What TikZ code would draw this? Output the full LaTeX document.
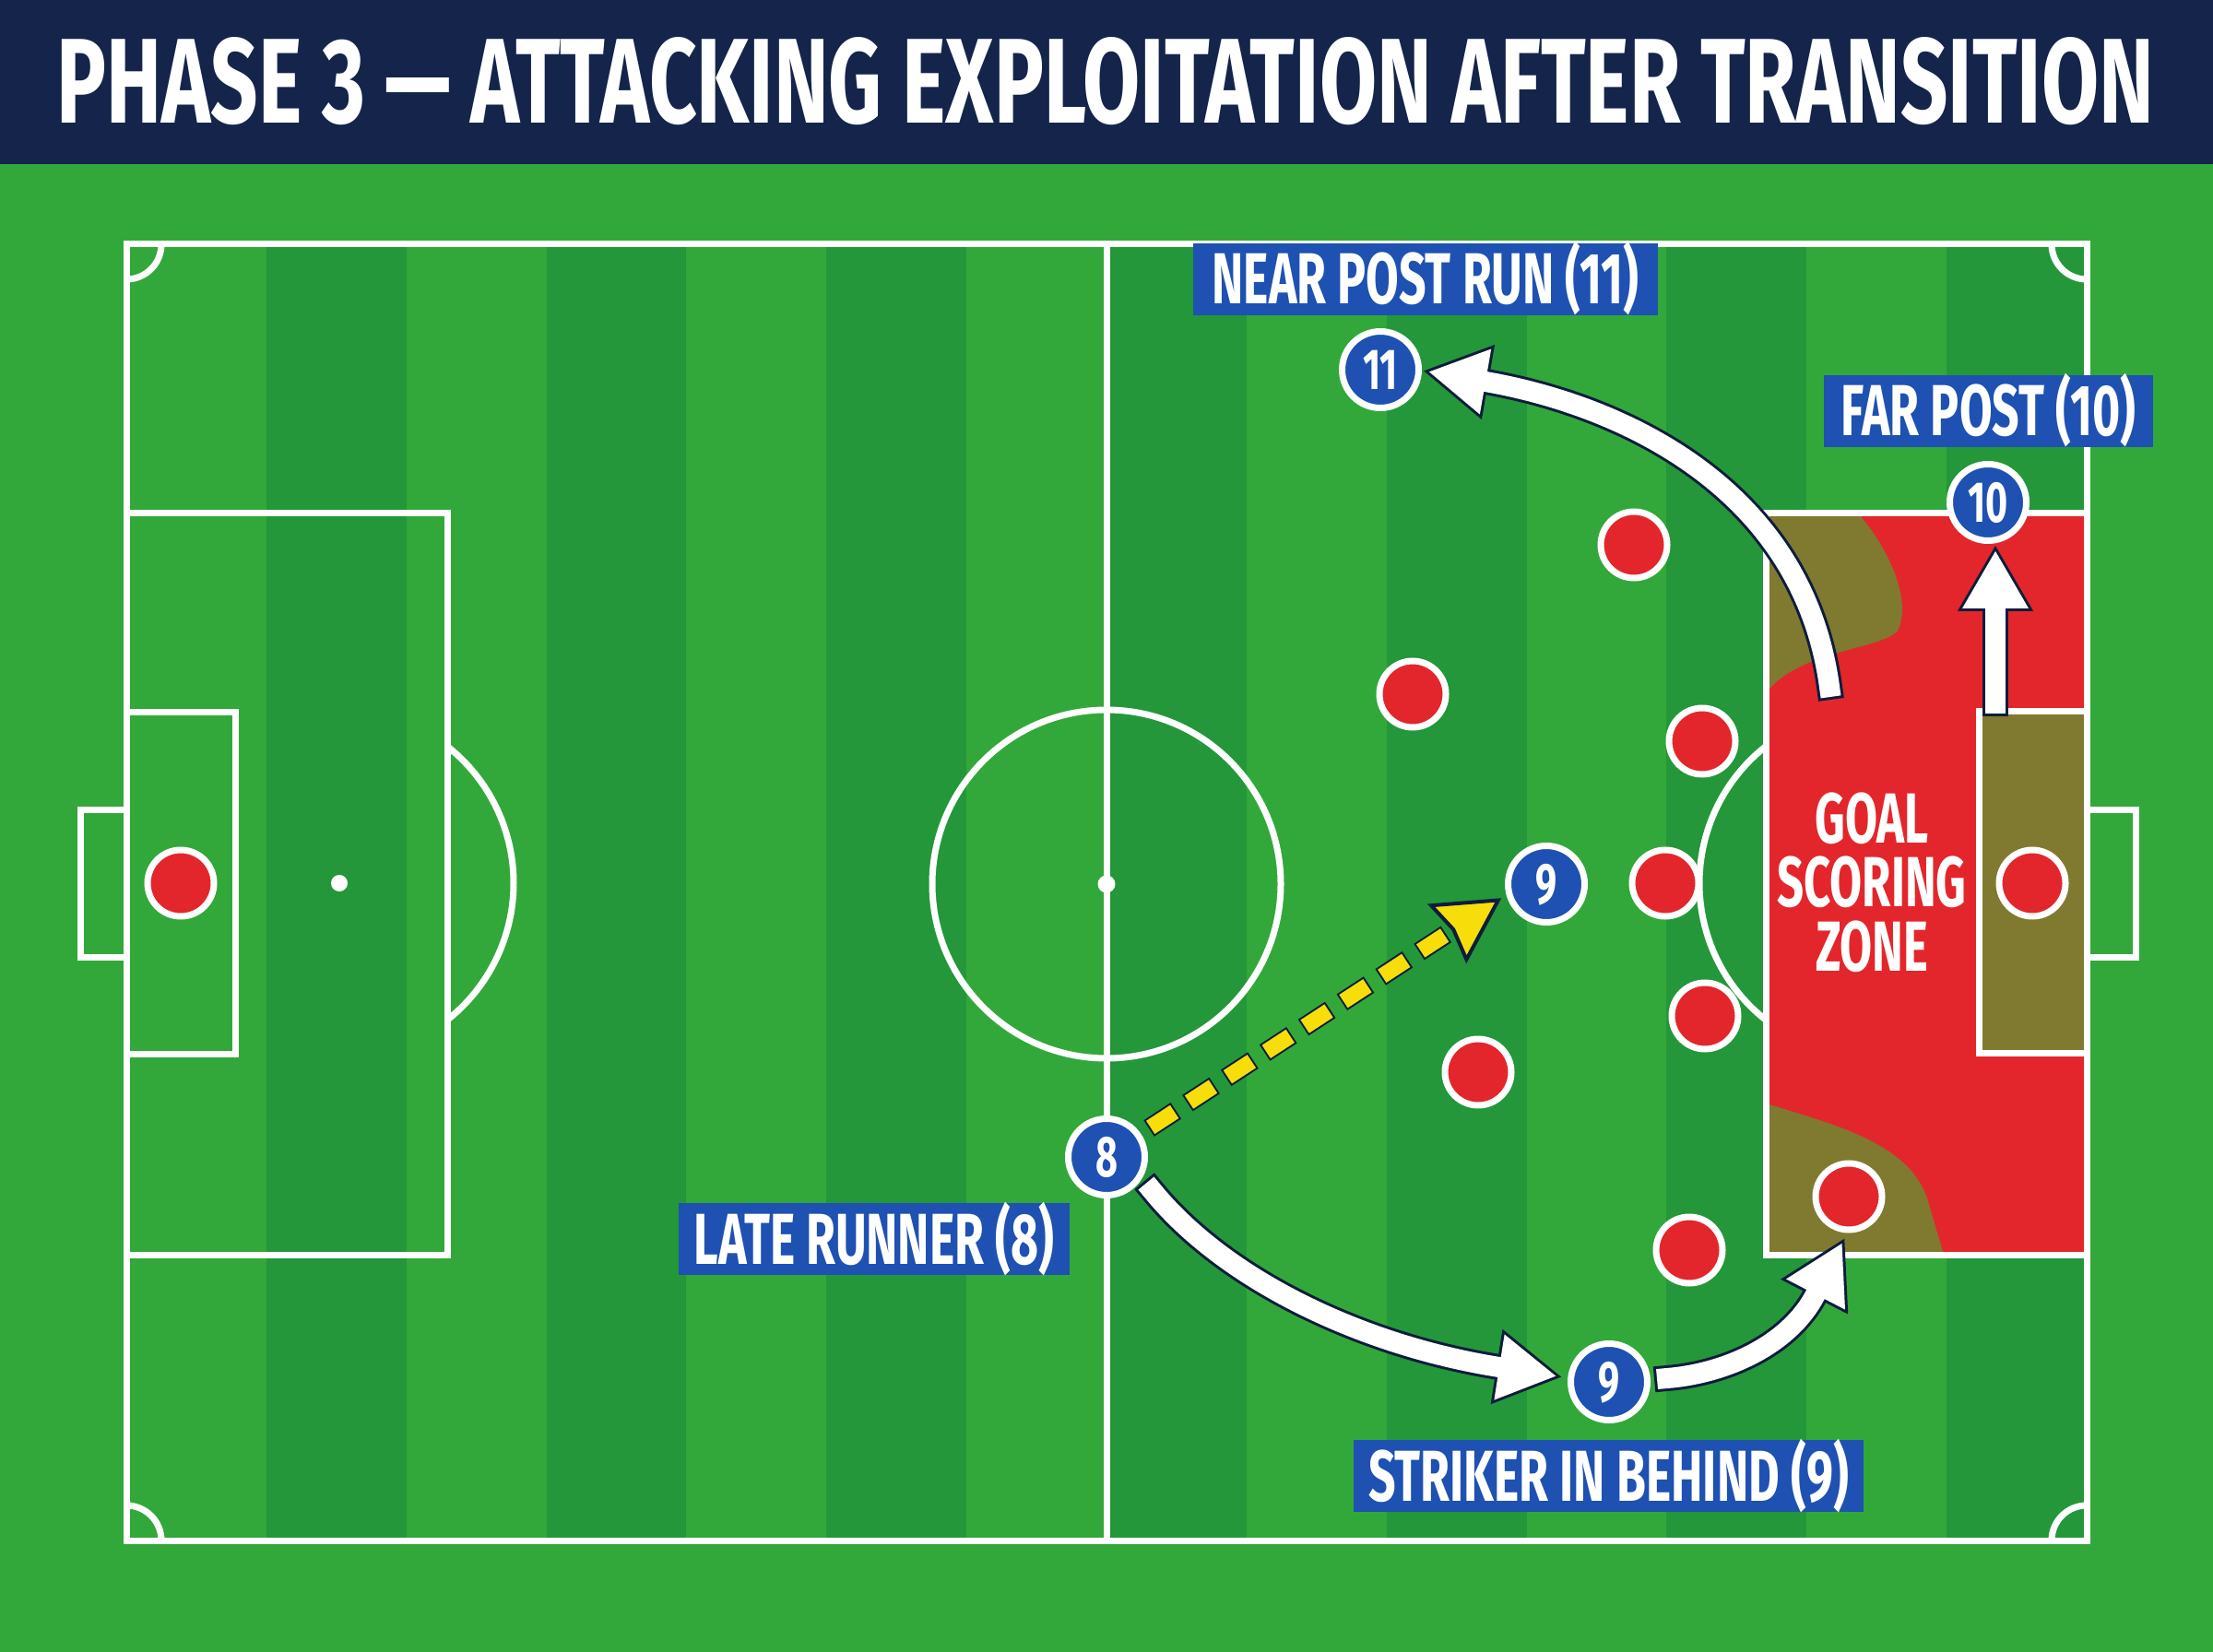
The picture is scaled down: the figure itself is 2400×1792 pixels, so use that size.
\documentclass[tikz,border=0pt]{standalone}
\usepackage{fontspec}
\usepackage{graphicx}
\usetikzlibrary{decorations.markings}
\newfontfamily\cf{Fira Sans}[FakeStretch=0.66]
\definecolor{navybar}{HTML}{14244A}
\definecolor{grassl}{HTML}{32A83A}
\definecolor{grassd}{HTML}{239739}
\definecolor{redp}{HTML}{E3262B}
\definecolor{bluep}{HTML}{1E51B2}
\definecolor{olivez}{HTML}{7F7A30}
\definecolor{navyl}{HTML}{0E1C3C}
\definecolor{yel}{HTML}{F7DD0A}
\tikzset{
  pline/.style={draw=white, line width=0.7mm},
  oppo/.style={circle, fill=redp, draw=white, line width=0.7mm, minimum size=7.2mm, inner sep=0},
  mate/.style={circle, fill=bluep, draw=white, line width=0.7mm, minimum size=8.3mm, inner sep=0,
    text=white, font=\cf\bfseries\fontsize{17.8}{18}\selectfont, text height=4.3mm, text depth=0mm},
  tag/.style={fill=bluep, text=white, inner sep=0, font=\cf\bfseries\fontsize{22.3}{24}\selectfont,
    minimum height=7.8mm, text height=5.4mm, text depth=0mm},
  zonetext/.style={text=white, inner sep=0, font=\cf\bfseries\fontsize{21.9}{22}\selectfont,
    text height=5.3mm, text depth=0mm},
  headnavy/.style={postaction={decorate, decoration={markings, mark=at position 1 with
    {\filldraw[navyl, line width=0.6mm, line join=miter, solid] (0,-36) -- (62,0) -- (0,36) -- cycle;}}}},
  headwhite/.style={postaction={decorate, decoration={markings, mark=at position 1 with
    {\fill[white] (0,-36) -- (62,0) -- (0,36) -- cycle;}}}},
  runback/.style={draw=navyl, line width=2.8mm, line cap=rect, headnavy},
  runfront/.style={draw=white, line width=2.2mm, line cap=rect, headwhite},
}
\begin{document}
\begin{tikzpicture}[x=0.1mm, y=-0.1mm]
\useasboundingbox (0,0) rectangle (2400,1792);
% background
\fill[grassl] (0,0) rectangle (2400,1792);
\fill[navybar] (0,0) rectangle (2400,178);
\node[text=white, inner sep=0] (title) at (1199,88.5)
  {\resizebox{227.4mm}{9.3mm}{\cf\bfseries PHASE 3 — ATTACKING EXPLOITATION AFTER TRANSITION}};
% stripes
\foreach \k in {1,3,...,13}
  \fill[grassd] ({137+\k*151.857},265) rectangle ({137+(\k+1)*151.857},1671);
% goal scoring zone
\fill[redp] (1915,557) rectangle (2263,1361);
\fill[olivez] (1915,557) -- (2015,557) .. controls (2045,590) and (2075,650) .. (2058,684)
  .. controls (2040,705) and (1950,705) .. (1915,752) -- cycle;
\fill[olivez] (1915,1197) .. controls (1990,1220) and (2070,1240) .. (2090,1300)
  -- (2108,1361) -- (1915,1361) -- cycle;
\fill[olivez] (2146,772) rectangle (2263,1142);
% pitch lines
\draw[pline] (137,265) rectangle (2263,1671);
\draw[pline] (1200,265) -- (1200,1671);
\draw[pline] (1200,959) circle[radius=189];
\fill[white] (1200,959) circle[radius=9.5];
\draw[pline] (137,557) rectangle (485,1361);
\draw[pline] (137,773) rectangle (255,1143);
\draw[pline] (87,878) rectangle (137,1038);
\fill[white] (368,958) circle[radius=9];
\draw[pline] (368,958) ++(-51.6:189) arc[start angle=-51.6, end angle=51.6, radius=189];
\draw[pline] (1915,557) rectangle (2263,1361);
\draw[pline] (2146,772) rectangle (2263,1142);
\draw[pline] (2263,878) rectangle (2316,1038);
\draw[pline] (2032,958) ++(128.4:189) arc[start angle=128.4, end angle=231.6, radius=189];
\draw[pline] (175,265) arc[start angle=0, end angle=90, radius=38];
\draw[pline] (2263,303) arc[start angle=90, end angle=180, radius=38];
\draw[pline] (137,1633) arc[start angle=270, end angle=360, radius=38];
\draw[pline] (2225,1671) arc[start angle=180, end angle=270, radius=38];
% zone text
\node[zonetext] (gsz1) at (2030,888.5) {GOAL};
\node[zonetext] (gsz2) at (2030,956.5) {SCORING};
\node[zonetext] (gsz3) at (2030,1027) {ZONE};
% opponents
\node[oppo] (o1) at (1772,591) {};
\node[oppo] (o2) at (1532,753) {};
\node[oppo] (o3) at (1846,804) {};
\node[oppo] (o4) at (1806,958) {};
\node[oppo] (o5) at (1849,1102) {};
\node[oppo] (o6) at (1603,1163) {};
\node[oppo] (o7) at (2005,1298) {};
\node[oppo] (o8) at (1832,1356) {};
\node[oppo] (o9) at (2204,958) {};
\node[oppo] (o10) at (196,958) {};
% attackers
\node[mate] (p11) at (1497,401) {11};
\node[mate] (p10) at (2156,545) {10};
\node[mate] (p9a) at (1677,959) {9};
\node[mate] (p8) at (1200,1255) {8};
\node[mate] (p9b) at (1745,1499) {9};
% run coordinates
\coordinate (a1s) at (1984,745);
\coordinate (a1e) at (1611,414);
\coordinate (a2s) at (2164,763);
\coordinate (a2e) at (2164,660);
\coordinate (a3s) at (1250,1292);
\coordinate (a3e) at (1626,1483);
\coordinate (a4s) at (1808,1495);
\coordinate (a4e) at (1969,1404);
\coordinate (ys) at (1246,1224);
\coordinate (ye) at (1572,1011);
% runs
\path[runback] (a1s) .. controls (1955,530) and (1760,440) .. (a1e);
\path[runfront] (a1s) .. controls (1955,530) and (1760,440) .. (a1e);
\path[runback] (a2s) -- (a2e);
\path[runfront] (a2s) -- (a2e);
\path[runback] (a3s) .. controls (1330,1390) and (1480,1460) .. (a3e);
\path[runfront] (a3s) .. controls (1330,1390) and (1480,1460) .. (a3e);
\path[runback] (a4s) .. controls (1870,1490) and (1940,1460) .. (a4e);
\path[runfront] (a4s) .. controls (1870,1490) and (1940,1460) .. (a4e);
% pass / movement dashed
\path[draw=navyl, line width=2.1mm, dash pattern=on 3.5mm off 1.5mm] (ys) -- (ye);
\path[draw=yel, line width=1.7mm, dash pattern=on 3.1mm off 1.9mm, dash phase=4.8mm,
  postaction={decorate, decoration={markings, mark=at position 1 with
  {\filldraw[fill=yel, draw=navyl, line width=0.4mm, solid, line join=miter]
   (0,-35) -- (64,0) -- (0,35) -- (6,0) -- cycle;}}}] (ys) -- (ye);
% labels
\node[tag, minimum width=50.4mm] (lnear) at (1546,303) {NEAR POST RUN (11)};
\node[tag, minimum width=35.7mm] (lfar) at (2156.5,446) {FAR POST (10)};
\node[tag, minimum width=42.4mm] (llate) at (948,1344) {LATE RUNNER (8)};
\node[tag, minimum width=55.3mm] (lstrk) at (1744.5,1601) {STRIKER IN BEHIND (9)};
\end{tikzpicture}
\end{document}
